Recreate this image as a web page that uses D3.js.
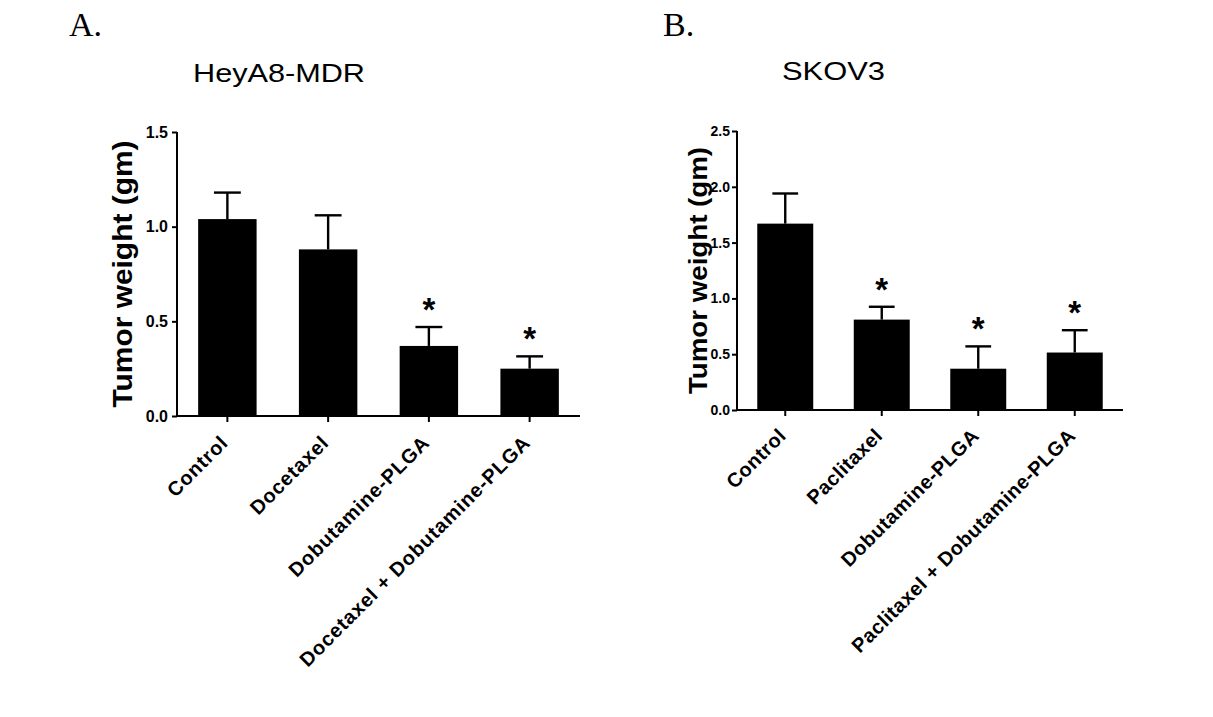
<!DOCTYPE html>
<html><head><meta charset="utf-8">
<script src="https://cdn.jsdelivr.net/npm/d3@7"></script>
<style>body{margin:0;background:#fff}</style>
</head><body>
<svg id="chart" width="1213" height="717"></svg>
<script>
// ---- Data ----
const categoriesA = ["Control", "Docetaxel", "Dobutamine-PLGA", "Docetaxel + Dobutamine-PLGA"];
const meansA = [1.04, 0.88, 0.37, 0.25];
const errorsA = [0.14, 0.18, 0.10, 0.065];
const sigA = [false, false, true, true];
const ticksA = [0.0, 0.5, 1.0, 1.5];

const categoriesB = ["Control", "Paclitaxel", "Dobutamine-PLGA", "Paclitaxel + Dobutamine-PLGA"];
const meansB = [1.67, 0.81, 0.37, 0.515];
const errorsB = [0.27, 0.115, 0.20, 0.20];
const sigB = [false, true, true, true];
const ticksB = [0.0, 0.5, 1.0, 1.5, 2.0, 2.5];

const svg = d3.select("#chart");
const SANS = "'Liberation Sans', Arial, sans-serif";

function panel(cfg) {
  const g = svg.append("g");
  const x = d3.scaleBand().domain(cfg.cats).range([cfg.x0, cfg.x1]).paddingInner(0.42).paddingOuter(0.21);
  const y = d3.scaleLinear().domain([0, cfg.max]).range([cfg.yb, cfg.yt]);
  const data = cfg.cats.map((c, i) => ({c, m: cfg.means[i], e: cfg.errs[i], s: cfg.sig[i]}));
  const capHalf = x.bandwidth() * 0.23;

  // error bars (upper only)
  g.selectAll(".err").data(data).enter().append("line")
    .attr("x1", d => x(d.c) + x.bandwidth()/2).attr("x2", d => x(d.c) + x.bandwidth()/2)
    .attr("y1", d => y(d.m)).attr("y2", d => y(d.m + d.e))
    .attr("stroke", "#000").attr("stroke-width", 2.4);
  g.selectAll(".cap").data(data).enter().append("line")
    .attr("x1", d => x(d.c) + x.bandwidth()/2 - capHalf).attr("x2", d => x(d.c) + x.bandwidth()/2 + capHalf)
    .attr("y1", d => y(d.m + d.e)).attr("y2", d => y(d.m + d.e))
    .attr("stroke", "#000").attr("stroke-width", 2.4);
  // bars
  g.selectAll(".bar").data(data).enter().append("rect")
    .attr("x", d => x(d.c)).attr("width", x.bandwidth())
    .attr("y", d => y(d.m)).attr("height", d => y(0) - y(d.m))
    .attr("fill", "#000");
  // asterisks
  g.selectAll(".star").data(data.filter(d => d.s)).enter().append("text")
    .attr("x", d => x(d.c) + x.bandwidth()/2)
    .attr("y", d => y(d.m + d.e) - 6)
    .attr("text-anchor", "middle")
    .style("font-family", SANS).style("font-weight", "bold")
    .style("font-size", "33px").text("*");

  // y axis
  const ya = g.append("g").attr("transform", `translate(${cfg.x0},0)`)
    .call(d3.axisLeft(y).tickValues(cfg.ticks).tickFormat(d3.format(".1f")).tickSize(5).tickPadding(cfg.tickPad));
  ya.select(".domain").attr("stroke-width", 2).attr("d", `M0,${cfg.yt}V${cfg.yb}`);
  ya.selectAll(".tick line").attr("stroke-width", 2);
  ya.selectAll(".tick text").style("font-family", cfg.tickFont).style("font-weight", "bold")
    .style("font-size", cfg.tickSize + "px").attr("fill", "#000");

  // x axis
  const xa = g.append("g").attr("transform", `translate(0,${cfg.yb})`)
    .call(d3.axisBottom(x).tickSize(6).tickFormat(""));
  xa.select(".domain").attr("stroke-width", 2).attr("d", `M${cfg.x0},0H${cfg.x1}`);
  xa.selectAll(".tick line").attr("stroke-width", 2);
  g.selectAll(".xl").data(cfg.cats).enter().append("text")
    .attr("transform", d => `translate(${x(d) + x.bandwidth()/2 + cfg.lblDx},${cfg.yb + cfg.lblDy}) rotate(-45)`)
    .attr("text-anchor", "end")
    .style("font-family", SANS).style("font-weight", "bold")
    .style("font-size", cfg.lblSize + "px").style("letter-spacing", cfg.lblSpacing + "px")
    .text(d => d);

  // y title
  g.append("text")
    .attr("transform", `translate(${cfg.ytX},${(cfg.yt + cfg.yb)/2}) rotate(-90)`)
    .attr("text-anchor", "middle")
    .attr("textLength", cfg.ytLen).attr("lengthAdjust", "spacingAndGlyphs")
    .style("font-family", SANS).style("font-weight", "bold")
    .style("font-size", cfg.ytSize + "px").text("Tumor weight (gm)");

  // panel title
  g.append("text").attr("x", cfg.titleX).attr("y", cfg.titleY)
    .attr("textLength", cfg.titleLen).attr("lengthAdjust", "spacingAndGlyphs")
    .style("font-family", SANS).style("font-size", "26px")
    .text(cfg.title);
  // panel letter
  g.append("text").attr("x", cfg.letterX).attr("y", 36)
    .style("font-family", "'Liberation Serif', 'Times New Roman', serif").style("font-size", "34px")
    .text(cfg.letter);
}

panel({cats: categoriesA, means: meansA, errs: errorsA, sig: sigA, ticks: ticksA, max: 1.5,
  x0: 177, x1: 580, yt: 132, yb: 416, tickPad: 4, tickFont: SANS, tickSize: 16,
  lblDx: 2, lblDy: 28, lblSize: 20, lblSpacing: 0.8,
  ytX: 132, ytLen: 267, ytSize: 27,
  title: "HeyA8-MDR", titleX: 193, titleY: 82, titleLen: 172, letter: "A.", letterX: 69});

panel({cats: categoriesB, means: meansB, errs: errorsB, sig: sigB, ticks: ticksB, max: 2.5,
  x0: 737, x1: 1123, yt: 131, yb: 410, tickPad: 2, tickFont: "'Liberation Sans Narrow', 'Arial Narrow', 'Liberation Sans', sans-serif", tickSize: 14,
  lblDx: 2, lblDy: 27, lblSize: 20, lblSpacing: 0.5,
  ytX: 707, ytLen: 247, ytSize: 26,
  title: "SKOV3", titleX: 782, titleY: 80, titleLen: 103, letter: "B.", letterX: 663});
</script>
</body></html>
